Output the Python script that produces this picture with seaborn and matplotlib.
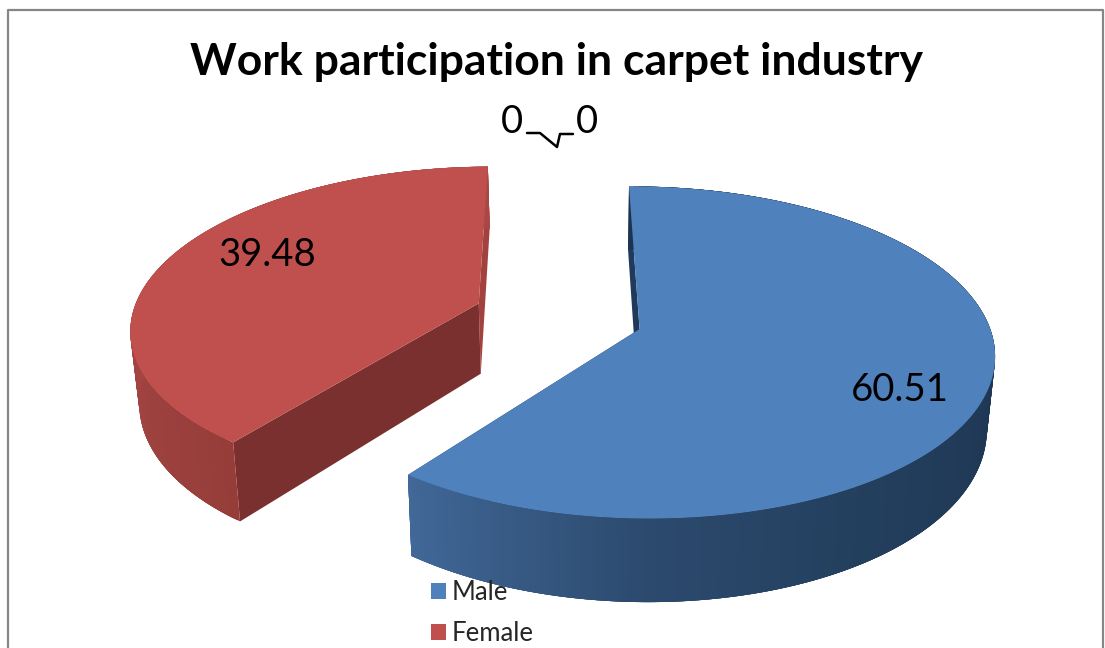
import numpy as np
import matplotlib
matplotlib.use('Agg')
import matplotlib.pyplot as plt
from matplotlib.colors import to_rgb
from matplotlib.patches import Patch, Polygon
import seaborn as sns

# data
categories = ['Male', 'Female', '3rd', '4th']
values = [60.51, 39.48, 0, 0]
title = 'Work participation in carpet industry'

# colours
sns.set_theme(style='white')
plt.rcParams['font.family'] = ['Lato', 'DejaVu Sans']
palette = sns.color_palette(['#4F81BD', '#C0504D'])
inner_colors = ['#1F3A5A', '#7A302E']
side_colors = ['#1F3A5A', '#A2413E']
wall_angles = [[0, 90, 150, 180, 218], [218, 250, 290, 360]]
wall_colors = [['#1C3450', '#1C3450', '#24405F', '#2C4A6E', '#42699A'],
               ['#963D3A', '#A04341', '#A84745', '#A84745']]

# perspective of the 3d pie, in pixels
VX, VY = 580, -826
CAM_H = 1156
DIST = 2376
RADIUS_X = 351
RADIUS_Z = 335
DEPTH = 72
CX, CZ = -22, 29
EXPLODE = 86
TAPER = 0.02
FIRST_ANGLE = np.radians(-0.6)


def project(wx, wz, h=0):
    s = 1 / (1 + wz / DIST)
    return VX + wx * s * (1 + TAPER * h / DEPTH), VY + (CAM_H - h) * s


def rim(t, off, h=0):
    wx = CX + off[0] + RADIUS_X * np.sin(t)
    wz = CZ + off[1] + RADIUS_Z * np.cos(t)
    return np.column_stack(project(wx, wz, h))


def apex(off, h=0):
    return np.array(project(CX + off[0], CZ + off[1], h))


fig, ax = plt.subplots(figsize=(11.05, 6.48), dpi=100)
ax.set_position([0, 0, 1, 1])
ax.set_xlim(0, 1105)
ax.set_ylim(648, 0)
ax.axis('off')

# chart frame
ax.plot([7.5, 7.5, 1103, 1103], [648, 9.5, 9.5, 648], color='#868686', lw=1.6)

frac = np.array(values) / sum(values) * 2 * np.pi
ends = np.cumsum(frac) + FIRST_ANGLE
starts = ends - frac

for i in [1, 0]:
    a, b = starts[i], ends[i]
    mid = (a + b) / 2
    off = (EXPLODE * np.sin(mid), EXPLODE * np.cos(mid))
    t = np.linspace(a, b, 240)
    top = rim(t, off)
    low = rim(t, off, -DEPTH)
    c0, c1 = apex(off), apex(off, -DEPTH)

    # cut faces
    ax.add_patch(Polygon([c0, top[-1], low[-1], c1], fc=side_colors[i], ec='none'))
    ax.add_patch(Polygon([c0, top[0], low[0], c1], fc=inner_colors[i] if i == 1 else side_colors[i], ec='none'))

    # outer wall with shading, each strip overlaps the next so no seams show
    rgb = np.array([to_rgb(c) for c in wall_colors[i]])
    deg = np.degrees(t)
    n = len(t)
    for k in range(n - 1):
        k2 = min(k + 4, n - 1)
        col = [np.interp(deg[k], wall_angles[i], rgb[:, j]) for j in range(3)]
        ax.add_patch(Polygon([top[k], top[k2], low[k2], low[k]], fc=col, ec='none'))

    # top
    ax.add_patch(Polygon(np.vstack([c0, top]), fc=palette[i], ec='none', zorder=3))

ax.text(556, 62, title, ha='center', va='center', fontsize=32, fontweight='bold', color='black', zorder=5)
ax.text(900, 390, f'{values[0]:.2f}', ha='center', va='center', fontsize=27.5, color='black', zorder=5)
ax.text(267, 255, f'{values[1]:.2f}', ha='center', va='center', fontsize=27.5, color='black', zorder=5)
ax.text(512, 122, f'{values[2]:g}', ha='center', va='center', fontsize=27.5, color='black', zorder=5)
ax.text(587, 122, f'{values[3]:g}', ha='center', va='center', fontsize=27.5, color='black', zorder=5)
ax.plot([527, 540, 557, 560, 573], [133, 133, 147, 134, 134], color='black', lw=1.8, zorder=5)

handles = [Patch(fc=palette[i], ec='none') for i in range(2)]
leg = ax.legend(handles, categories[:2], loc='upper left', bbox_to_anchor=(425, 574),
                bbox_transform=ax.transData, frameon=False, fontsize=18.5,
                handlelength=0.58, handleheight=0.58, handletextpad=0.2,
                labelspacing=0.6, borderpad=0.24, borderaxespad=0)
leg.set_zorder(6)

fig.savefig('out.png', dpi=100)
